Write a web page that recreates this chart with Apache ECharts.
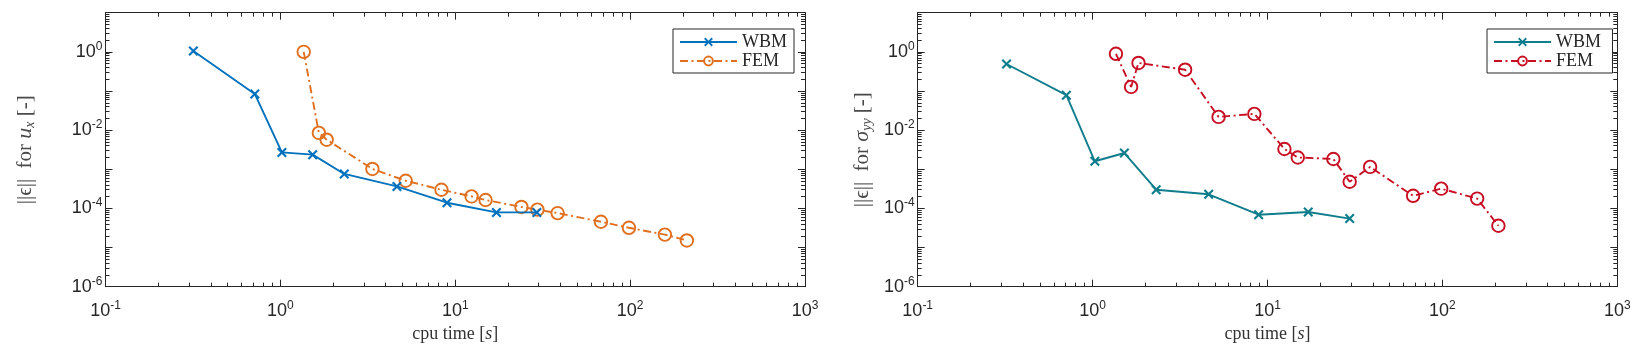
<!DOCTYPE html>
<html>
<head>
<meta charset="utf-8">
<script src="https://cdn.jsdelivr.net/npm/echarts@6/dist/echarts.min.js"></script>
<style>
html,body{margin:0;padding:0;background:#fff;}
#chart{width:1648px;height:358px;}
</style>
</head>
<body>
<div id="chart"></div>
<script>
// ---- data ----
const seriesNames = ['WBM', 'FEM'];
// left panel: error for u_x
const wbmUxTime = [0.318, 0.714, 1.02, 1.53, 2.32, 4.64, 8.97, 17.2, 29.3];
const wbmUxErr  = [1.05, 0.084, 0.0027, 0.00236, 0.00076, 0.000365, 0.00014, 7.9e-5, 7.9e-5];
const femUxTime = [1.36, 1.66, 1.84, 3.36, 5.21, 8.34, 12.4, 14.9, 23.9, 29.5, 38.5, 68.1, 98.5, 158, 211];
const femUxErr  = [1.0, 0.0085, 0.0057, 0.00102, 0.00051, 0.0003, 0.000203, 0.000164, 0.000109, 9.3e-5, 7.6e-5, 4.57e-5, 3.2e-5, 2.14e-5, 1.52e-5];
// right panel: error for sigma_yy
const wbmSyyTime = [0.322, 0.708, 1.03, 1.52, 2.31, 4.61, 8.9, 17.1, 29.5];
const wbmSyyErr  = [0.49, 0.078, 0.0016, 0.0026, 0.0003, 0.00023, 6.9e-5, 8.1e-5, 5.5e-5];
const femSyyTime = [1.36, 1.66, 1.83, 3.38, 5.25, 8.41, 12.5, 14.9, 23.8, 29.5, 38.6, 68, 98.4, 158, 209];
const femSyyErr  = [0.89, 0.127, 0.52, 0.35, 0.0218, 0.026, 0.0033, 0.002, 0.00183, 0.00048, 0.00115, 0.00021, 0.00032, 0.000178, 3.6e-5];

// ---- axis ticks ----
const xMin = 0.1, xMax = 1000;
const yMin = 1e-6, yMax = 10;
const xMajorTicks = [0.1, 1, 10, 100, 1000];
const xLabelTicks = [0.1, 1, 10, 100, 1000];
const yMajorTicks = [1e-6, 1e-5, 1e-4, 1e-3, 1e-2, 1e-1, 1, 10];
const yLabelTicks = [1e-6, 1e-4, 1e-2, 1];
const minorMultipliers = [2, 3, 4, 5, 6, 7, 8, 9];

function minorOf(majors) {
  const out = [];
  for (let i = 0; i < majors.length - 1; i++) {
    for (const m of minorMultipliers) out.push(majors[i] * m);
  }
  return out;
}
const xMinorTicks = minorOf(xMajorTicks);
const yMinorTicks = minorOf(yMajorTicks);

const colors = {
  left: ['#0072BD', '#E0701F'],
  right: ['#0F7D8C', '#C80E23']
};

const AX = '#262626';
const tickFont = 'Liberation Sans';
const serif = 'Liberation Serif';

function powLabel(v) {
  const e = Math.round(Math.log10(v));
  return '{b|10}{s|' + e + '}';
}
const labelRich = {
  b: { fontSize: 18, fontFamily: tickFont, color: AX },
  s: { fontSize: 12, fontFamily: tickFont, color: AX, padding: [0, 0, 11, 0] }
};

const grids = [
  { left: 105.5, top: 12.7, width: 699.5, height: 274 },
  { left: 917.7, top: 12.7, width: 699.6, height: 274 }
];

const xAxes = [], yAxes = [];
grids.forEach((g, gi) => {
  xAxes.push({
    gridIndex: gi, type: 'log', logBase: 10, min: xMin, max: xMax, position: 'bottom',
    axisLine: { show: true, onZero: false, lineStyle: { color: AX, width: 1 } },
    axisTick: { show: true, inside: true, length: 7, customValues: xMajorTicks, lineStyle: { color: AX } },
    axisLabel: { show: true, customValues: xLabelTicks, formatter: powLabel, rich: labelRich, margin: 13 },
    splitLine: { show: false },
    name: '{a|cpu time [}{i|s}{a|]}', nameLocation: 'middle', nameGap: 37,
    nameTextStyle: { rich: {
      a: { fontSize: 18, fontFamily: serif, color: '#333' },
      i: { fontSize: 18, fontFamily: serif, fontStyle: 'italic', color: '#333' }
    } }
  });
  xAxes.push({
    gridIndex: gi, type: 'log', logBase: 10, min: xMin, max: xMax, position: 'bottom',
    axisLine: { show: false, onZero: false },
    axisTick: { show: true, inside: true, length: 4, customValues: xMinorTicks, lineStyle: { color: AX } },
    axisLabel: { show: false }, splitLine: { show: false }
  });
  xAxes.push({
    gridIndex: gi, type: 'log', logBase: 10, min: xMin, max: xMax, position: 'top',
    axisLine: { show: true, onZero: false, lineStyle: { color: AX, width: 1 } },
    axisTick: { show: true, inside: true, length: 7, customValues: xMajorTicks, lineStyle: { color: AX } },
    axisLabel: { show: false }, splitLine: { show: false }
  });
  xAxes.push({
    gridIndex: gi, type: 'log', logBase: 10, min: xMin, max: xMax, position: 'top',
    axisLine: { show: false, onZero: false },
    axisTick: { show: true, inside: true, length: 4, customValues: xMinorTicks, lineStyle: { color: AX } },
    axisLabel: { show: false }, splitLine: { show: false }
  });

  const yName = gi === 0
    ? '{a|||ϵ||  for }{i|u}{sub|x}{a| [-]}'
    : '{a|||ϵ||  for }{i|σ}{sub|yy}{a| [-]}';
  yAxes.push({
    gridIndex: gi, type: 'log', logBase: 10, min: yMin, max: yMax, position: 'left',
    axisLine: { show: true, onZero: false, lineStyle: { color: AX, width: 1 } },
    axisTick: { show: true, inside: true, length: 7, customValues: yMajorTicks, lineStyle: { color: AX } },
    axisLabel: { show: true, customValues: yLabelTicks, formatter: powLabel, rich: labelRich, margin: 3 },
    splitLine: { show: false },
    name: yName, nameLocation: 'middle', nameRotate: 90, nameGap: gi === 0 ? 68 : 43,
    nameTextStyle: { rich: {
      a: { fontSize: 21, fontFamily: serif, color: '#4a4a4a' },
      i: { fontSize: 22, fontFamily: serif, fontStyle: 'italic', color: '#4a4a4a' },
      sub: { fontSize: 14, fontFamily: serif, fontStyle: 'italic', color: '#4a4a4a', padding: [10, 0, 0, 0] }
    } }
  });
  yAxes.push({
    gridIndex: gi, type: 'log', logBase: 10, min: yMin, max: yMax, position: 'left',
    axisLine: { show: false, onZero: false },
    axisTick: { show: true, inside: true, length: 4, customValues: yMinorTicks, lineStyle: { color: AX } },
    axisLabel: { show: false }, splitLine: { show: false }
  });
  yAxes.push({
    gridIndex: gi, type: 'log', logBase: 10, min: yMin, max: yMax, position: 'right',
    axisLine: { show: true, onZero: false, lineStyle: { color: AX, width: 1 } },
    axisTick: { show: true, inside: true, length: 7, customValues: yMajorTicks, lineStyle: { color: AX } },
    axisLabel: { show: false }, splitLine: { show: false }
  });
  yAxes.push({
    gridIndex: gi, type: 'log', logBase: 10, min: yMin, max: yMax, position: 'right',
    axisLine: { show: false, onZero: false },
    axisTick: { show: true, inside: true, length: 4, customValues: yMinorTicks, lineStyle: { color: AX } },
    axisLabel: { show: false }, splitLine: { show: false }
  });
});

const xSymbol = 'path://M0,1.5L1.5,0L5,3.5L8.5,0L10,1.5L6.5,5L10,8.5L8.5,10L5,6.5L1.5,10L0,8.5L3.5,5Z';

function zip(a, b) { return a.map((v, i) => [v, b[i]]); }

function wbmSeries(gi, name, xs, ys, color) {
  return {
    name: name, type: 'line', xAxisIndex: gi * 4, yAxisIndex: gi * 4,
    data: zip(xs, ys), symbol: xSymbol, symbolSize: 10, showSymbol: true,
    lineStyle: { color: color, width: 1.9, type: 'solid' },
    itemStyle: { color: color, borderWidth: 0 },
    emphasis: { disabled: true }, animation: false, z: 3
  };
}
function femSeries(gi, name, xs, ys, color) {
  return {
    name: name, type: 'line', xAxisIndex: gi * 4, yAxisIndex: gi * 4,
    data: zip(xs, ys), symbol: 'circle', symbolSize: 12.5, showSymbol: true,
    lineStyle: { color: color, width: 1.9, type: [8, 3.5, 2, 3.5] },
    itemStyle: { color: 'rgba(255,255,255,0)', borderColor: color, borderWidth: 1.9 },
    emphasis: { disabled: true }, animation: false, z: 2
  };
}

// right-panel series get a trailing space so each legend only lists its own panel
const rightNames = [seriesNames[0] + ' ', seriesNames[1] + ' '];

const series = [
  wbmSeries(0, seriesNames[0], wbmUxTime, wbmUxErr, colors.left[0]),
  femSeries(0, seriesNames[1], femUxTime, femUxErr, colors.left[1]),
  wbmSeries(1, rightNames[0], wbmSyyTime, wbmSyyErr, colors.right[0]),
  femSeries(1, rightNames[1], femSyyTime, femSyyErr, colors.right[1])
];

function legendAt(left, names) {
  return {
    orient: 'vertical', left: left, top: 29,
    data: names,
    itemWidth: 57, itemHeight: 11, itemGap: 1,
    backgroundColor: '#fff', borderColor: AX, borderWidth: 1, borderRadius: 0,
    padding: [4, 7, 3, 6],
    textStyle: { fontFamily: serif, fontSize: 18, color: '#262626', lineHeight: 14 },
    selectedMode: false
  };
}

const chart = echarts.init(document.getElementById('chart'), null, { renderer: 'canvas' });
chart.setOption({
  animation: false,
  backgroundColor: '#fff',
  grid: grids,
  xAxis: xAxes,
  yAxis: yAxes,
  legend: [legendAt(673, seriesNames), legendAt(1487, rightNames)],
  series: series
});
</script>
</body>
</html>
